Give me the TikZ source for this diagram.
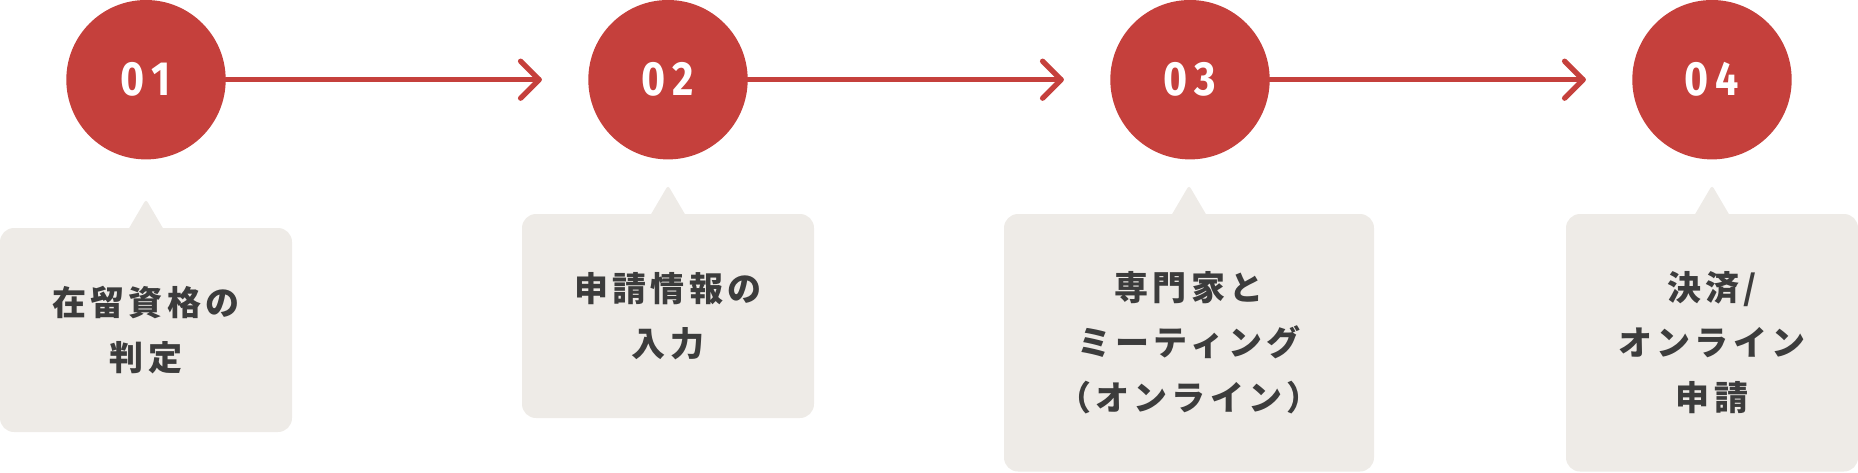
\documentclass[tikz,border=0pt]{standalone}
\usepackage{fontspec}
\newfontfamily\jpfont{Noto Sans CJK JP}[LetterSpace=12]
\newfontfamily\numfont{Fira Sans}[FakeStretch=0.86]
\usetikzlibrary{calc}
\definecolor{stepred}{HTML}{C5403C}
\definecolor{boxgray}{HTML}{EEEBE7}
\definecolor{textgray}{HTML}{3C3C3C}
\tikzset{
  stepcircle/.style={circle, fill=stepred, minimum size=159.4pt, inner sep=0pt,
    text=white, font={\numfont\bfseries\fontsize{48}{48}\selectfont}},
  infobox/.style={rectangle, rounded corners=14pt, fill=boxgray, inner sep=0pt,
    align=center, text=textgray, font={\jpfont\bfseries\fontsize{34}{55}\selectfont}},
  flowline/.style={draw=stepred, line width=5.3pt, line cap=round, line join=round},
  pointer/.style={fill=boxgray}
}
\begin{document}
\begin{tikzpicture}[x=1pt,y=-1pt]
\useasboundingbox (0,0) rectangle (1858,472);
% circles
\node[stepcircle] (c1) at (146,79.7) {0\kern7pt 1};
\node[stepcircle] (c2) at (668,79.7) {0\kern7pt 2};
\node[stepcircle] (c3) at (1190,79.7) {0\kern7pt 3};
\node[stepcircle] (c4) at (1712,79.7) {0\kern7pt 4};
% arrows
\coordinate (t1) at ($(c2.west)+(-49,0)$);
\coordinate (t2) at ($(c3.west)+(-49,0)$);
\coordinate (t3) at ($(c4.west)+(-49,0)$);
\draw[flowline] (c1.east) -- (t1);
\draw[flowline] ($(t1)+(-18.5,-18.5)$) -- (t1) -- ($(t1)+(-18.5,18.5)$);
\draw[flowline] (c2.east) -- (t2);
\draw[flowline] ($(t2)+(-18.5,-18.5)$) -- (t2) -- ($(t2)+(-18.5,18.5)$);
\draw[flowline] (c3.east) -- (t3);
\draw[flowline] ($(t3)+(-18.5,-18.5)$) -- (t3) -- ($(t3)+(-18.5,18.5)$);
% boxes
\node[infobox, minimum width=292pt, minimum height=204pt] (b1) at (146,330) {在留資格の\\判定};
\node[infobox, minimum width=292pt, minimum height=204pt] (b2) at (668,316) {申請情報の\\入力};
\node[infobox, minimum width=370pt, minimum height=257.5pt] (b3) at (1189,342.75) {専門家と\\ミーティング\\（オンライン）};
\node[infobox, minimum width=292pt, minimum height=257.5pt] (b4) at (1712,342.75) {決済/\\オンライン\\申請};
% pointers
\foreach \b in {b1,b2,b3,b4}{
  \fill[pointer] ($(\b.north)+(-18.5,3)$) [rounded corners=3pt] -- ($(\b.north)+(0,-28.5)$) [sharp corners] -- ($(\b.north)+(18.5,3)$) -- cycle;
}
\end{tikzpicture}
\end{document}
